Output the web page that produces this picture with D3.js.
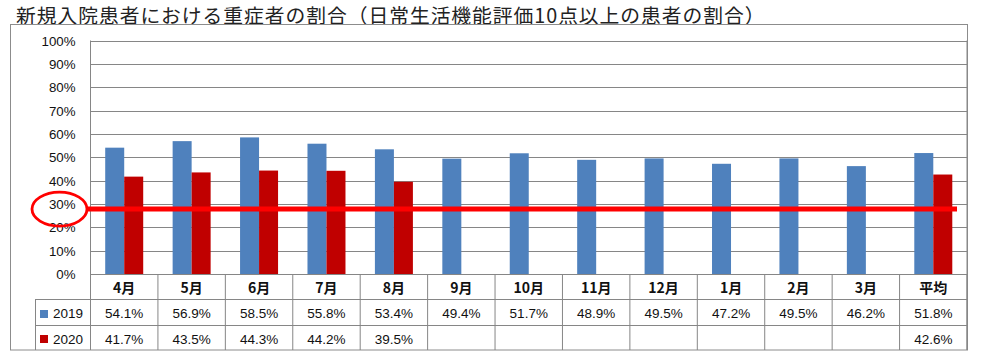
<!DOCTYPE html>
<html><head><meta charset="utf-8">
<script src="https://cdn.jsdelivr.net/npm/d3@7"></script>
<style>
html,body{margin:0;padding:0;background:#fff;}
svg{display:block;}
</style></head>
<body><svg id="c" width="1000" height="360"></svg>
<script>
const titleText = "新規入院患者における重症者の割合（日常生活機能評価10点以上の患者の割合）";
const categories = ["4月","5月","6月","7月","8月","9月","10月","11月","12月","1月","2月","3月","平均"];
const seriesNames = ["2019","2020"];
const values2019 = [0.541,0.569,0.585,0.558,0.534,0.494,0.517,0.489,0.495,0.472,0.495,0.462,0.518];
const values2020 = [0.417,0.435,0.443,0.442,0.395,null,null,null,null,null,null,null,0.426];
const yTicks = [0,0.1,0.2,0.3,0.4,0.5,0.6,0.7,0.8,0.9,1.0];
const threshold = 0.278;
const colors = ["#4F81BD","#C00000"];

const svg = d3.select("#c");
const L = 90.5, R = 967, T = 40.5, B = 274;
const fontLat = "'Liberation Sans', Arial, sans-serif";
const fontJP = "'Noto Sans CJK JP', sans-serif";

// title
svg.append("text").attr("x",16).attr("y",23).attr("font-family",fontJP)
  .attr("font-size",19.8).attr("letter-spacing",0.95).attr("fill","#222").text(titleText);

// outer box
svg.append("rect").attr("x",10.5).attr("y",24.5).attr("width",957).attr("height",325.5)
  .attr("fill","none").attr("stroke","#8c8c8c").attr("stroke-width",1);

const x = d3.scaleBand().domain(categories).range([L,R]).paddingInner(0).paddingOuter(0);
const y = d3.scaleLinear().domain([0,1]).range([B,T]);
const xs = d3.scaleBand().domain(seriesNames).range([x.bandwidth()/2-19, x.bandwidth()/2+19]);

// gridlines
svg.append("g").selectAll("line").data(yTicks).join("line")
  .attr("x1",L).attr("x2",R).attr("y1",d=>Math.round(y(d))+0.5).attr("y2",d=>Math.round(y(d))+0.5)
  .attr("stroke","#868686").attr("stroke-width",1);

// y axis labels
const yAxis = d3.axisLeft(y).tickValues(yTicks).tickFormat(d3.format(".0%")).tickSize(0).tickPadding(15);
const ga = svg.append("g").attr("transform",`translate(${L},0)`).call(yAxis);
ga.select(".domain").remove();
ga.selectAll("text").attr("font-family",fontLat).attr("font-size",13.3).attr("fill","#111").attr("dy","0.35em");

// bars
const data = categories.map((c,i)=>({c, vals:[values2019[i],values2020[i]]}));
const g = svg.append("g");
data.forEach(d=>{
  seriesNames.forEach((s,j)=>{
    const v = d.vals[j];
    if(v==null) return;
    g.append("rect").attr("x",x(d.c)+xs(s)).attr("width",xs.bandwidth())
      .attr("y",y(v)).attr("height",B-y(v)).attr("fill",colors[j]);
  });
});

// left axis & table lines
const tl = svg.append("g").attr("stroke","#868686").attr("stroke-width",1);
tl.append("line").attr("x1",L).attr("x2",L).attr("y1",T).attr("y2",350);
tl.append("line").attr("x1",R).attr("x2",R).attr("y1",T).attr("y2",350);
[274.5,299.5,325.5].forEach((yy,i)=>{
  tl.append("line").attr("x1", i===0?L:35).attr("x2",R).attr("y1",yy).attr("y2",yy);
});
tl.append("line").attr("x1",35.5).attr("x2",35.5).attr("y1",299.5).attr("y2",350);
categories.forEach(c=>{
  tl.append("line").attr("x1",x(c)+x.bandwidth()).attr("x2",x(c)+x.bandwidth()).attr("y1",274).attr("y2",350);
});

// header labels
svg.append("g").selectAll("text").data(categories).join("text")
  .attr("x",d=>x(d)+x.bandwidth()/2).attr("y",293).attr("text-anchor","middle")
  .attr("font-family",fontJP).attr("font-size",14).attr("font-weight","bold").attr("fill","#111").text(d=>d);

// values rows
[values2019, values2020].forEach((arr,j)=>{
  svg.append("g").selectAll("text").data(categories).join("text")
    .attr("x",d=>x(d)+x.bandwidth()/2).attr("y",j===0?318:343.5).attr("text-anchor","middle")
    .attr("font-family",fontLat).attr("font-size",13.5).attr("fill","#111")
    .text((d,i)=>arr[i]==null?"":d3.format(".1%")(arr[i]));
  // legend
  svg.append("rect").attr("x",40).attr("y",j===0?310:335).attr("width",8).attr("height",8).attr("fill",colors[j]);
  svg.append("text").attr("x",53).attr("y",j===0?318:343.5).attr("font-family",fontLat)
    .attr("font-size",13.5).attr("fill","#111").text(seriesNames[j]);
});

// threshold line
const ty = y(threshold);
svg.append("line").attr("x1",87).attr("x2",957).attr("y1",ty).attr("y2",ty)
  .attr("stroke","#FF0000").attr("stroke-width",5);
svg.append("ellipse").attr("cx",59.5).attr("cy",ty).attr("rx",27.5).attr("ry",17)
  .attr("fill","none").attr("stroke","#FF0000").attr("stroke-width",2.8);
</script>
</body></html>
